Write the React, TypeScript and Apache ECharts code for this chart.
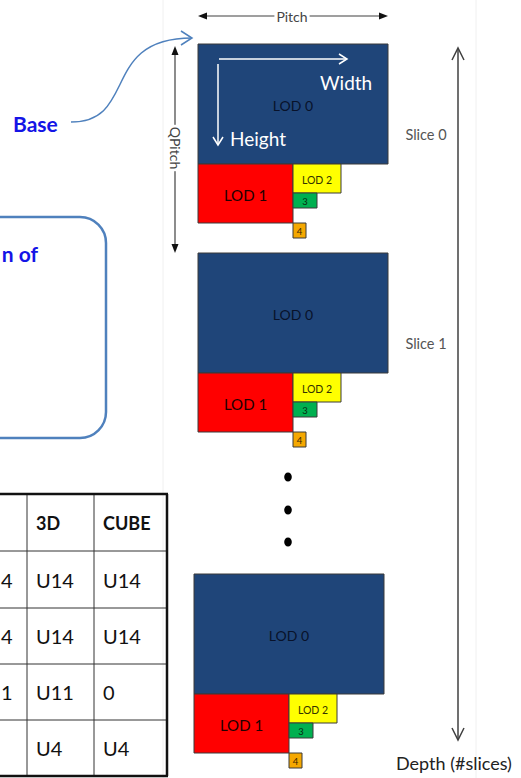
import React, { useEffect, useRef } from "react";
import * as echarts from "echarts";

const W = 521;
const H = 778;
const FONT = "Lato, 'Noto Sans', sans-serif";

// Slices (top-left corner of LOD 0 of each slice, in page pixels)
const sliceLabels = ["Slice 0", "Slice 1", ""];
const sliceOriginX = [198, 198, 194];
const sliceOriginY = [44, 253, 574];

// Mip levels inside a slice
const lodNames = ["LOD 0", "LOD 1", "LOD 2", "3", "4"];
const lodOffsetX = [0, 0, 95, 95, 95];
const lodOffsetY = [0, 120, 120, 149, 179];
const lodWidth = [190, 95, 48, 24, 13];
const lodHeight = [120, 59, 29, 15, 15];
const lodColors = ["#1F4579", "#FF0000", "#FFFF00", "#00B050", "#F5A800"];
const lodFontSizes = [14, 15, 10.5, 9.5, 9.5];
const lodTextColors = ["#08122A", "#220000", "#333300", "#0A2A12", "#3A2600"];

// Table (partially visible)
const tableHeader = ["", "3D", "CUBE"];
const tableCol0 = ["4", "4", "1", ""];
const tableCol3D = ["U14", "U14", "U11", "U4"];
const tableColCube = ["U14", "U14", "0", "U4"];

// Dots between slices
const dotY = [477, 510, 542];

export default function App() {
  const ref = useRef<HTMLDivElement>(null);

  useEffect(() => {
    if (!ref.current) return;
    const chart = echarts.init(ref.current, undefined, { renderer: "svg" });

    const lodData: number[][] = [];
    for (let s = 0; s < sliceOriginX.length; s++) {
      for (let k = 0; k < lodNames.length; k++) {
        const x0 = sliceOriginX[s] + lodOffsetX[k];
        const y0 = sliceOriginY[s] + lodOffsetY[k];
        lodData.push([x0, y0, x0 + lodWidth[k], y0 + lodHeight[k], k]);
      }
    }

    const g: any[] = [];
    const gray = "#404040";

    // faint panel edges
    g.push({ type: "line", shape: { x1: 163, y1: 0, x2: 163, y2: H }, style: { stroke: "#F0F0F0", lineWidth: 1 } });
    g.push({ type: "line", shape: { x1: 476, y1: 0, x2: 476, y2: H }, style: { stroke: "#F0F0F0", lineWidth: 1 } });

    // Pitch arrow
    g.push({ type: "line", shape: { x1: 204, y1: 16, x2: 382, y2: 16 }, style: { stroke: gray, lineWidth: 1.2 } });
    g.push({ type: "polygon", shape: { points: [[198, 16], [207, 12.5], [207, 19.5]] }, style: { fill: "#111" } });
    g.push({ type: "polygon", shape: { points: [[388, 16], [379, 12.5], [379, 19.5]] }, style: { fill: "#111" } });
    g.push({
      type: "text",
      style: {
        text: "Pitch", x: 292, y: 16, align: "center", verticalAlign: "middle",
        fontSize: 14, fontFamily: FONT, fill: "#444", backgroundColor: "#fff", padding: [1, 2],
      },
    });

    // QPitch arrow
    g.push({ type: "line", shape: { x1: 175, y1: 52, x2: 175, y2: 247 }, style: { stroke: gray, lineWidth: 1.2 } });
    g.push({ type: "polygon", shape: { points: [[175, 46], [171.5, 55], [178.5, 55]] }, style: { fill: "#111" } });
    g.push({ type: "polygon", shape: { points: [[175, 253], [171.5, 244], [178.5, 244]] }, style: { fill: "#111" } });
    g.push({
      type: "text",
      x: 175, y: 148, rotation: -Math.PI / 2,
      style: {
        text: "QPitch", x: 0, y: 0, align: "center", verticalAlign: "middle",
        fontSize: 14, fontFamily: FONT, fill: "#444", backgroundColor: "#fff", padding: [1, 2],
      },
    });

    // Base label and curved arrow
    g.push({
      type: "text",
      style: { text: "Base", x: 13, y: 123, align: "left", verticalAlign: "middle", fontSize: 21, fontWeight: "bold", fontFamily: FONT, fill: "#1414E6" },
    });
    g.push({
      type: "bezierCurve",
      shape: { x1: 71, y1: 122, cpx1: 138, cpy1: 122, cpx2: 100, cpy2: 38, x2: 192, y2: 38 },
      style: { stroke: "#4F81BD", lineWidth: 1.5, fill: "none" },
    });
    g.push({ type: "polyline", shape: { points: [[181, 31], [192, 38], [181, 45]] }, style: { stroke: "#4F81BD", lineWidth: 1.5, fill: "none" } });

    // Rounded box (partially visible)
    g.push({
      type: "rect",
      shape: { x: -150, y: 217, width: 256, height: 221, r: 26 },
      style: { fill: "none", stroke: "#4F81BD", lineWidth: 2.5 },
    });
    g.push({
      type: "text",
      style: { text: "n of", x: 38, y: 253, align: "right", verticalAlign: "middle", fontSize: 21, fontWeight: "bold", fontFamily: FONT, fill: "#1414E6" },
    });

    // Width / Height arrows (white)
    g.push({ type: "line", shape: { x1: 219, y1: 59, x2: 346, y2: 59 }, style: { stroke: "#fff", lineWidth: 1.5 } });
    g.push({ type: "polyline", shape: { points: [[339, 54], [347, 59], [339, 64]] }, style: { stroke: "#fff", lineWidth: 1.5, fill: "none" } });
    g.push({ type: "line", shape: { x1: 218, y1: 64, x2: 218, y2: 145 }, style: { stroke: "#fff", lineWidth: 1.5 } });
    g.push({ type: "polyline", shape: { points: [[213, 137], [218, 145], [223, 137]] }, style: { stroke: "#fff", lineWidth: 1.5, fill: "none" } });
    g.push({ type: "text", style: { text: "Width", x: 320, y: 82, align: "left", verticalAlign: "middle", fontSize: 19, fontFamily: FONT, fill: "#fff" } });
    g.push({ type: "text", style: { text: "Height", x: 230, y: 138, align: "left", verticalAlign: "middle", fontSize: 19, fontFamily: FONT, fill: "#fff" } });

    // Slice labels
    sliceLabels.forEach((t, i) => {
      if (!t) return;
      g.push({
        type: "text",
        style: { text: t, x: 426, y: sliceOriginY[i] + 90, align: "center", verticalAlign: "middle", fontSize: 14.5, fontFamily: FONT, fill: "#555" },
      });
    });

    // Depth arrow
    g.push({ type: "line", shape: { x1: 458, y1: 49, x2: 458, y2: 739 }, style: { stroke: gray, lineWidth: 1.5 } });
    g.push({ type: "polyline", shape: { points: [[452, 60], [458, 48], [464, 60]] }, style: { stroke: gray, lineWidth: 1.5, fill: "none" } });
    g.push({ type: "polyline", shape: { points: [[452, 728], [458, 740], [464, 728]] }, style: { stroke: gray, lineWidth: 1.5, fill: "none" } });
    g.push({ type: "text", style: { text: "Depth (#slices)", x: 396, y: 763, align: "left", verticalAlign: "middle", fontSize: 18, fontFamily: FONT, fill: "#222" } });

    // Dots
    dotY.forEach((y) => {
      g.push({ type: "ellipse", shape: { cx: 288, cy: y, rx: 3.8, ry: 4.6 }, style: { fill: "#000" } });
    });

    // Table
    const rowsY = [494, 551, 608, 664, 720, 776];
    const colsX = [-40, 27, 94, 167];
    for (let r = 1; r < rowsY.length - 1; r++) {
      g.push({ type: "line", shape: { x1: -5, y1: rowsY[r], x2: 167, y2: rowsY[r] }, style: { stroke: "#333", lineWidth: 1 } });
    }
    g.push({ type: "line", shape: { x1: 27, y1: 494, x2: 27, y2: 776 }, style: { stroke: "#333", lineWidth: 1 } });
    g.push({ type: "line", shape: { x1: 94, y1: 494, x2: 94, y2: 776 }, style: { stroke: "#333", lineWidth: 1 } });
    g.push({ type: "line", shape: { x1: -5, y1: 494, x2: 168, y2: 494 }, style: { stroke: "#111", lineWidth: 2.5 } });
    g.push({ type: "line", shape: { x1: -5, y1: 776, x2: 168, y2: 776 }, style: { stroke: "#111", lineWidth: 2.5 } });
    g.push({ type: "line", shape: { x1: 167, y1: 494, x2: 167, y2: 776 }, style: { stroke: "#111", lineWidth: 2.5 } });

    const cellText = (t: string, col: number, row: number, bold: boolean) => {
      if (!t) return;
      const cy = (rowsY[row] + rowsY[row + 1]) / 2;
      if (col === 0) {
        g.push({ type: "text", style: { text: t, x: 1, y: cy, align: "left", verticalAlign: "middle", fontSize: 20, fontFamily: FONT, fill: "#111", fontWeight: bold ? "bold" : "normal" } });
      } else {
        g.push({ type: "text", style: { text: t, x: colsX[col] + 9, y: cy, align: "left", verticalAlign: "middle", fontSize: bold ? 18 : 20, fontFamily: FONT, fill: "#111", fontWeight: bold ? "bold" : "normal" } });
      }
    };
    tableHeader.forEach((t, c) => cellText(t, c, 0, true));
    for (let r = 0; r < tableCol3D.length; r++) {
      cellText(tableCol0[r], 0, r + 1, false);
      cellText(tableCol3D[r], 1, r + 1, false);
      cellText(tableColCube[r], 2, r + 1, false);
    }

    chart.setOption({
      animation: false,
      backgroundColor: "#fff",
      grid: { left: 0, right: 0, top: 0, bottom: 0 },
      xAxis: { type: "value", min: 0, max: W, show: false },
      yAxis: { type: "value", min: 0, max: H, inverse: true, show: false },
      series: [
        {
          type: "custom",
          clip: false,
          data: lodData,
          encode: { x: [0, 2], y: [1, 3] },
          renderItem: (params: any, api: any) => {
            const k = api.value(4) as number;
            const p0 = api.coord([api.value(0), api.value(1)]);
            const p1 = api.coord([api.value(2), api.value(3)]);
            return {
              type: "group",
              children: [
                {
                  type: "rect",
                  shape: { x: p0[0], y: p0[1], width: p1[0] - p0[0], height: p1[1] - p0[1] },
                  style: { fill: lodColors[k], stroke: "#3A3A3A", lineWidth: 1 },
                },
                {
                  type: "text",
                  style: {
                    text: lodNames[k],
                    x: (p0[0] + p1[0]) / 2,
                    y: (p0[1] + p1[1]) / 2 + 1,
                    align: "center",
                    verticalAlign: "middle",
                    fontSize: lodFontSizes[k],
                    fontFamily: FONT,
                    fill: lodTextColors[k],
                  },
                },
              ],
            };
          },
          z: 1,
        },
      ],
      graphic: { elements: g.map((e) => ({ ...e, z: 10 })) },
    });

    return () => chart.dispose();
  }, []);

  return <div ref={ref} style={{ position: "absolute", left: 0, top: 0, width: W, height: H }} />;
}
